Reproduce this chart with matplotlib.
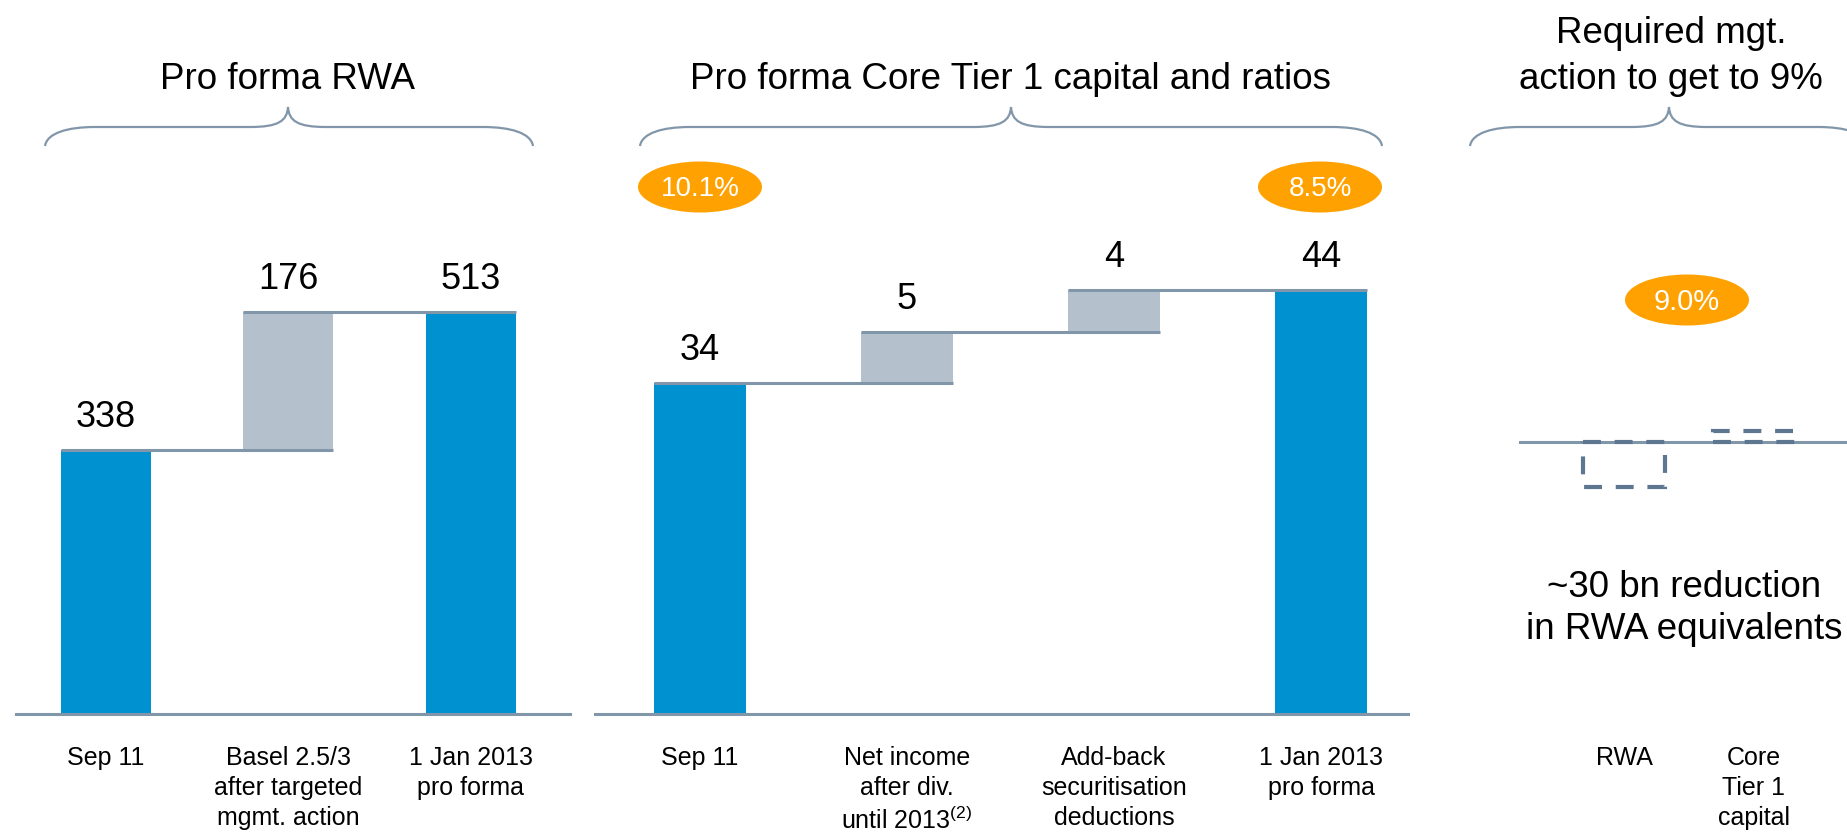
import numpy as np
import matplotlib
matplotlib.use("Agg")
import matplotlib.pyplot as plt
from matplotlib.patches import Ellipse, PathPatch
from matplotlib.path import Path

plt.rcParams['font.family'] = ['Liberation Sans', 'DejaVu Sans']
plt.rcParams['mathtext.fontset'] = 'custom'
plt.rcParams['mathtext.rm'] = 'Liberation Sans'
plt.rcParams['mathtext.it'] = 'Liberation Sans:italic'

# --- data (EUR bn) ---
rwa_labels = ['Sep 11', 'Basel 2.5/3\nafter targeted\nmgmt. action', '1 Jan 2013\npro forma']
rwa_values = [337.6, 175.7, 513.3]
rwa_kinds = ['total', 'step', 'total']

ct1_labels = ['Sep 11', 'Net income\nafter div.\nuntil 2013$^{(2)}$',
              'Add-back\nsecuritisation\ndeductions', '1 Jan 2013\npro forma']
ct1_values = [34.2, 5.3, 4.3, 43.8]
ct1_kinds = ['total', 'step', 'step', 'total']
ct1_ratio_start = '10.1%'
ct1_ratio_end = '8.5%'

mgmt_labels = ['RWA', 'Core\nTier 1\ncapital']
mgmt_values = [-30, 7.5]
target_ratio = '9.0%'

BLUE = '#0091D1'
GREY = '#B4C1CD'
LINE = '#8296AA'
DASH = '#5E7790'
ORANGE = '#FFA100'

W, H = 1847, 837
fig = plt.figure(figsize=(W / 100, H / 100), dpi=100)


def px_axes(left, right, top, bottom):
    return fig.add_axes([left / W, 1 - bottom / H, (right - left) / W, (bottom - top) / H])


def style_axes(ax, labels, show_base=True):
    for s in ['top', 'left', 'right']:
        ax.spines[s].set_visible(False)
    ax.spines['bottom'].set_visible(show_base)
    ax.spines['bottom'].set_color(LINE)
    ax.spines['bottom'].set_linewidth(2.2)
    ax.set_yticks([])
    ax.set_xticks(np.arange(len(labels)), labels)
    ax.tick_params(axis='x', length=0, pad=22.5, labelsize=18)
    for t in ax.get_xticklabels():
        t.set_linespacing(1.3)
    ax.patch.set_visible(False)


def waterfall(ax, values, kinds, width):
    x = np.arange(len(values))
    bottoms, tops, colors = [], [], []
    level = 0
    for v, k in zip(values, kinds):
        if k == 'total':
            b, t = 0, v
        else:
            b, t = level, level + v
        level = t
        bottoms.append(b)
        tops.append(t)
        colors.append(BLUE if k == 'total' else GREY)
    ax.bar(x, np.array(tops) - np.array(bottoms), bottom=bottoms, width=width,
           color=colors, zorder=2)
    for i in range(len(values) - 1):
        ax.plot([x[i] - width / 2, x[i + 1] + width / 2], [tops[i], tops[i]],
                color=LINE, lw=2.2, solid_capstyle='butt', zorder=3)
    for xi, v, t in zip(x, values, tops):
        ax.annotate(f'{v:.0f}', (xi, t), xytext=(0, 17), textcoords='offset points',
                    ha='center', va='baseline', fontsize=26)


# panel 1: pro forma RWA  (bar centres at 106, 289, 471 px; 0.783 px per bn)
ax1 = px_axes(16, 570, 150, 715)
step1 = 182.5
ax1.set_xlim((16 - 106) / step1, (570 - 106) / step1)
ax1.set_ylim(0, (715 - 150) / 0.783)
waterfall(ax1, rwa_values, rwa_kinds, 90 / step1)
style_axes(ax1, rwa_labels)

# panel 2: core tier 1 capital (bar centres 700 .. 1321 px; 9.68 px per bn)
ax2 = px_axes(595, 1408, 150, 715)
step2 = 207
ax2.set_xlim((595 - 700) / step2, (1408 - 700) / step2)
ax2.set_ylim(0, (715 - 150) / 9.68)
waterfall(ax2, ct1_values, ct1_kinds, 92 / step2)
style_axes(ax2, ct1_labels)

# panel 3: required management action
ax3 = px_axes(1519, 1847, 150, 715)
step3 = 130
ax3.set_xlim((1519 - 1624) / step3, (1847 - 1624) / step3)
ax3.set_ylim(-(715 - 443) / 1.5, (443 - 150) / 1.5)
ax3.axhline(0, color=LINE, lw=2.2, zorder=1)
ax3.bar(np.arange(len(mgmt_values)), mgmt_values, width=82 / step3, fill=False,
        edgecolor=DASH, lw=3, linestyle=(0, (4.3, 3.3)), zorder=3)
style_axes(ax3, mgmt_labels, show_base=False)

# overlay in pixel coordinates for braces, headers and ratio bubbles
ov = fig.add_axes([0, 0, 1, 1])
ov.set_xlim(0, W)
ov.set_ylim(H, 0)
ov.axis('off')


def brace(x0, xm, x1, y_end=147, y_flat=128, y_peak=108, r1=50, r2=38):
    verts = [(x0, y_end),
             (x0 + 2, y_flat + 6), (x0 + r1 * 0.45, y_flat), (x0 + r1, y_flat),
             (xm - r2, y_flat),
             (xm - r2 * 0.25, y_flat), (xm - 1, y_flat - 6), (xm, y_peak),
             (xm + 1, y_flat - 6), (xm + r2 * 0.25, y_flat), (xm + r2, y_flat),
             (x1 - r1, y_flat),
             (x1 - r1 * 0.45, y_flat), (x1 - 2, y_flat + 6), (x1, y_end)]
    codes = [Path.MOVETO, Path.CURVE4, Path.CURVE4, Path.CURVE4, Path.LINETO,
             Path.CURVE4, Path.CURVE4, Path.CURVE4, Path.CURVE4, Path.CURVE4, Path.CURVE4,
             Path.LINETO, Path.CURVE4, Path.CURVE4, Path.CURVE4]
    ov.add_patch(PathPatch(Path(verts, codes), facecolor='none', edgecolor=LINE, lw=1.6))


brace(45, 288, 533)
brace(640, 1011, 1382)
brace(1470, 1669, 1868)

ov.text(288, 89, 'Pro forma RWA', ha='center', va='baseline', fontsize=26.5)
ov.text(1011, 89, 'Pro forma Core Tier 1 capital and ratios', ha='center', va='baseline', fontsize=26.5)
ov.text(1671, 43, 'Required mgt.', ha='center', va='baseline', fontsize=26.5)
ov.text(1671, 89, 'action to get to 9%', ha='center', va='baseline', fontsize=26.5)


def bubble(x, y, txt, size):
    ov.add_patch(Ellipse((x, y), 124, 51, facecolor=ORANGE, edgecolor='none'))
    ov.text(x, y + 1, txt, ha='center', va='center', color='white', fontsize=size)


bubble(700, 188, ct1_ratio_start, 20)
bubble(1320, 188, ct1_ratio_end, 20)
bubble(1687, 301, target_ratio, 21)

ov.text(1684, 597, '~30 bn reduction', ha='center', va='baseline', fontsize=26.5)
ov.text(1684, 639, 'in RWA equivalents', ha='center', va='baseline', fontsize=26.5)

fig.savefig('out.png', dpi=100)
